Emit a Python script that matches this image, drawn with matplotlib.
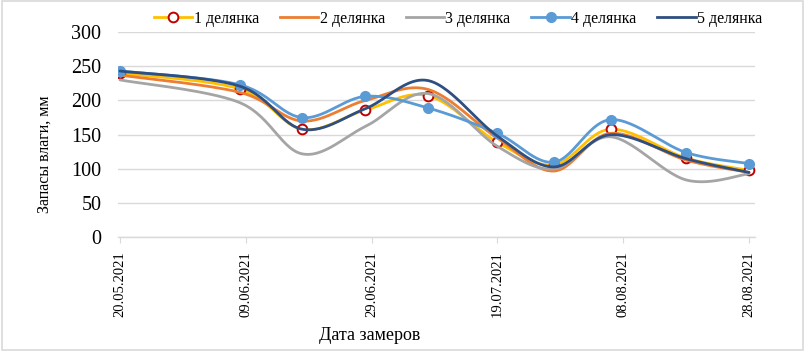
import numpy as np
import matplotlib
matplotlib.use("Agg")
import matplotlib.pyplot as plt
from matplotlib.patches import Rectangle
from datetime import date

plt.rcParams['font.family'] = ['Liberation Serif', 'DejaVu Serif']

dates = ["20.05.2021", "08.06.2021", "18.06.2021", "28.06.2021", "08.07.2021",
         "19.07.2021", "28.07.2021", "06.08.2021", "18.08.2021", "28.08.2021"]
tick_dates = ["20.05.2021", "09.06.2021", "29.06.2021", "19.07.2021", "08.08.2021", "28.08.2021"]
names = ["1 делянка", "2 делянка", "3 делянка", "4 делянка", "5 делянка"]
s1 = [240, 217, 158, 186, 207, 139, 106, 158, 116, 98]
s2 = [237, 212, 170, 200, 216, 145, 97, 152, 113, 95]
s3 = [230, 197, 122, 162, 210, 133, 100, 147, 84, 93]
s4 = [243, 223, 175, 206, 189, 152, 110, 172, 124, 108]
s5 = [243, 221, 158, 188, 229, 148, 103, 150, 115, 95]


def to_day(s):
    d, m, y = map(int, s.split("."))
    return (date(y, m, d) - date(2021, 5, 20)).days


x = np.array([to_day(d) for d in dates], dtype=float)
xt = [to_day(d) for d in tick_dates]


def smooth(xs, ys, n=30):
    xs = np.asarray(xs, float); ys = np.asarray(ys, float)
    P = np.column_stack([xs, ys])
    out = []
    for i in range(len(P) - 1):
        p0 = P[i - 1] if i > 0 else P[i]
        p1 = P[i]; p2 = P[i + 1]
        p3 = P[i + 2] if i + 2 < len(P) else P[i + 1]
        c1 = p1 + (p2 - p0) / 6.0
        c2 = p2 - (p3 - p1) / 6.0
        t = np.linspace(0, 1, n)[:, None]
        seg = ((1 - t) ** 3) * p1 + 3 * ((1 - t) ** 2) * t * c1 + 3 * (1 - t) * t ** 2 * c2 + t ** 3 * p2
        out.append(seg if i == 0 else seg[1:])
    S = np.vstack(out)
    return S[:, 0], S[:, 1]


fig = plt.figure(figsize=(8.05, 3.51), dpi=100)
fig.patches.append(Rectangle((0.002, 0.004), 0.995, 0.992, transform=fig.transFigure,
                             fill=False, edgecolor='#D9D9D9', lw=1.2))
ax = fig.add_axes([0.1466, 0.3234, 0.7913, 0.5855])

series = [s1, s2, s3, s4, s5]
colors = ['#FFC000', '#ED7D31', '#A5A5A5', '#5B9BD5', '#2F4F80']
handles = []
for i, (vals, c) in enumerate(zip(series, colors)):
    sx, sy = smooth(x, vals)
    z = 3 + 2 * i
    ax.plot(sx, sy, color=c, lw=2.0, zorder=z, solid_capstyle='round')
    if i == 0:
        ax.plot(x, vals, ls='none', marker='o', ms=7, mfc='white', mec='#C00000', mew=1.4, zorder=z + 1)
        h, = ax.plot([], [], color=c, lw=2.0, marker='o', ms=7, mfc='white', mec='#C00000', mew=1.4)
    elif i == 3:
        ax.plot(x, vals, ls='none', marker='o', ms=7, mfc=c, mec=c, zorder=z + 1)
        h, = ax.plot([], [], color=c, lw=2.0, marker='o', ms=7, mfc=c, mec=c)
    else:
        h, = ax.plot([], [], color=c, lw=2.0)
    handles.append(h)

ax.set_xlim(-0.32, 100.95)
ax.set_ylim(0, 300)
ax.set_yticks(np.arange(0, 301, 50))
ax.set_xticks(xt)
ax.set_xticklabels(tick_dates, rotation=90, fontsize=10.5)
ax.tick_params(axis='y', length=0, labelsize=14.5, pad=12)
ax.tick_params(axis='x', length=4, color='#D9D9D9', pad=6)
ax.grid(axis='y', color='#D9D9D9', lw=1)
ax.set_axisbelow(True)
for sp in ['top', 'right', 'left']:
    ax.spines[sp].set_visible(False)
ax.spines['bottom'].set_color('#D9D9D9')
ax.spines['bottom'].set_linewidth(1)

fig.text(0.056, 0.56, "Запасы влаги, мм", rotation=90, ha='center', va='center', fontsize=11.5)
fig.text(0.459, 0.045, "Дата замеров", ha='center', va='center', fontsize=13)

fig.legend(handles, names, loc='center', bbox_to_anchor=(0.569, 0.946), ncol=5, frameon=False,
           fontsize=11.5, handlelength=2.4, handletextpad=0.1, columnspacing=1.3)

fig.savefig("out.png", dpi=100)
